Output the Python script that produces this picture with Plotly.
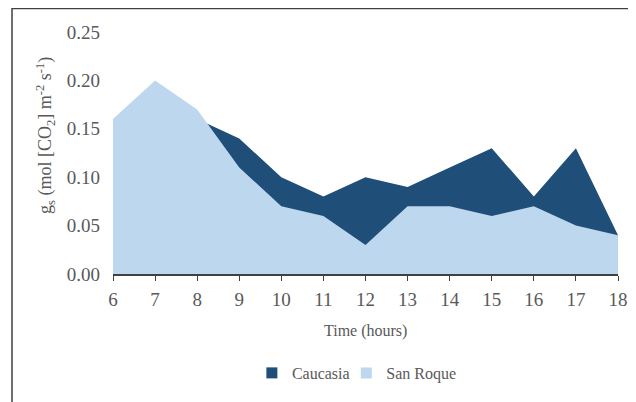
import plotly.graph_objects as go

hours = [6, 7, 8, 9, 10, 11, 12, 13, 14, 15, 16, 17, 18]
caucasia = [0.13, 0.18, 0.16, 0.14, 0.10, 0.08, 0.10, 0.09, 0.11, 0.13, 0.08, 0.13, 0.04]
san_roque = [0.16, 0.20, 0.17, 0.11, 0.07, 0.06, 0.03, 0.07, 0.07, 0.06, 0.07, 0.05, 0.04]
y_ticks = [0.00, 0.05, 0.10, 0.15, 0.20, 0.25]

FONT = "Liberation Serif, Times New Roman, serif"
GREY = "#595959"
DARK = "#1F4E79"
LIGHT = "#BDD7EE"

fig = go.Figure()
fig.add_trace(go.Scatter(x=hours, y=caucasia, name="Caucasia", mode="none",
                         fill="tozeroy", fillcolor=DARK, showlegend=False))
fig.add_trace(go.Scatter(x=hours, y=san_roque, name="San Roque", mode="none",
                         fill="tozeroy", fillcolor=LIGHT, showlegend=False))
# legend entries with square swatches
fig.add_trace(go.Scatter(x=[None], y=[None], name="Caucasia", mode="markers",
                         marker=dict(symbol="square", size=11, color=DARK), legend="legend"))
fig.add_trace(go.Scatter(x=[None], y=[None], name="San Roque", mode="markers",
                         marker=dict(symbol="square", size=11, color=LIGHT), legend="legend2"))

leg_common = dict(orientation="h", y=-0.409, yanchor="middle", xanchor="left",
                  font=dict(size=16, color=GREY, family=FONT), itemwidth=30,
                  bgcolor="rgba(0,0,0,0)")

fig.update_layout(
    width=628, height=394,
    margin=dict(l=105, r=18, t=24, b=128, autoexpand=False),
    paper_bgcolor="white", plot_bgcolor="white",
    font=dict(family=FONT, color=GREY),
    showlegend=True,
    legend=dict(x=0.275, **leg_common),
    legend2=dict(x=0.462, **leg_common),
    xaxis=dict(range=[6, 18], tickvals=hours, ticktext=[str(h) for h in hours],
               showgrid=False, zeroline=False, showline=True, linecolor="#404040",
               linewidth=1.5, ticks="outside", ticklen=5, tickcolor="#404040",
               tickfont=dict(size=19, color=GREY, family=FONT), ticklabelstandoff=2),
    yaxis=dict(range=[0, 0.25], tickvals=y_ticks, ticktext=[f"{v:.2f}" for v in y_ticks],
               showgrid=False, zeroline=False, showline=False,
               tickfont=dict(size=19, color=GREY, family=FONT),
               ticklabelstandoff=12),
    shapes=[dict(type="rect", xref="paper", yref="paper",
                 x0=-0.2, x1=1.1, y0=-0.6, y1=1.097,
                 line=dict(color="#404040", width=1.5))],
    annotations=[
        dict(text="g<sub>s</sub> (mol [CO<sub>2</sub>] m<sup>-2</sup> s<sup>-1</sup>)",
             xref="paper", yref="paper", x=-0.135, y=0.574,
             xanchor="center", yanchor="middle",
             textangle=-90, showarrow=False,
             font=dict(size=18, color=GREY, family=FONT)),
        dict(text="Time (hours)", xref="paper", yref="paper", x=0.5, y=-0.236,
             xanchor="center", yanchor="middle",
             showarrow=False, font=dict(size=16, color=GREY, family=FONT)),
    ],
)

fig.write_html("out.html")
